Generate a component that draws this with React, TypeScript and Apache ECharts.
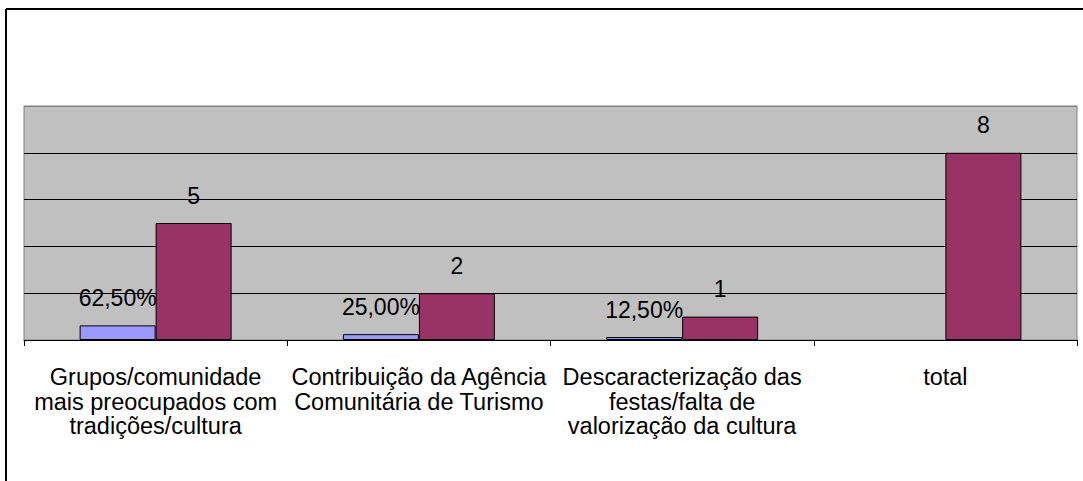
import React, { useEffect, useRef } from "react";
import * as echarts from "echarts";

const categories = [
  "Grupos/comunidade\nmais preocupados com\ntradições/cultura",
  "Contribuição da Agência\nComunitária de Turismo",
  "Descaracterização das\nfestas/falta de\nvalorização da cultura",
  "total",
];
const percentValues: (number | null)[] = [0.625, 0.25, 0.125, null];
const countValues = [5, 2, 1, 8];
const yTicks = [0, 2, 4, 6, 8, 10];

const FONT = '"Liberation Sans", Arial, sans-serif';

export default function App() {
  const ref = useRef<HTMLDivElement>(null);
  useEffect(() => {
    document.body.style.margin = "0";
    const chart = echarts.init(ref.current!, undefined, { renderer: "svg" });
    chart.setOption({
      animation: false,
      backgroundColor: "#ffffff",
      textStyle: { fontFamily: FONT },
      grid: {
        left: 24,
        right: 6,
        top: 106,
        bottom: 141,
        show: true,
        backgroundColor: "#C0C0C0",
        borderColor: "#808080",
        borderWidth: 1,
      },
      graphic: [
        { type: "line", shape: { x1: 6, y1: 9, x2: 1083, y2: 9 }, style: { stroke: "#000", lineWidth: 2 } },
        { type: "line", shape: { x1: 6, y1: 9, x2: 6, y2: 481 }, style: { stroke: "#000", lineWidth: 2 } },
      ],
      xAxis: {
        type: "category",
        data: categories,
        axisLine: { lineStyle: { color: "#000", width: 1 } },
        axisTick: { show: true, length: 6, lineStyle: { color: "#000" } },
        axisLabel: {
          interval: 0,
          color: "#000",
          fontFamily: FONT,
          fontSize: 23.5,
          lineHeight: 24.5,
          margin: 25,
          align: "center",
        },
      },
      yAxis: {
        type: "value",
        min: yTicks[0],
        max: yTicks[yTicks.length - 1],
        interval: 2,
        axisLine: { show: false },
        axisTick: { show: false },
        axisLabel: { show: false },
        splitLine: {
          show: true,
          lineStyle: { color: ["#000", "#000", "#000", "#000", "#000", "#808080"], width: 1 },
        },
      },
      series: [
        {
          type: "bar",
          data: percentValues,
          barWidth: 76,
          barGap: "0%",
          itemStyle: { color: "#9999FF", borderColor: "#000", borderWidth: 1 },
          label: {
            show: true,
            position: "top",
            distance: 16,
            color: "#000",
            fontFamily: FONT,
            fontSize: 23,
            formatter: (p: any) =>
              p.value == null ? "" : (p.value * 100).toFixed(2).replace(".", ",") + "%",
          },
        },
        {
          type: "bar",
          data: countValues,
          barWidth: 76,
          barGap: "0%",
          itemStyle: { color: "#993366", borderColor: "#000", borderWidth: 1 },
          label: {
            show: true,
            position: "top",
            distance: 16,
            color: "#000",
            fontFamily: FONT,
            fontSize: 23,
          },
        },
      ],
    });
    return () => chart.dispose();
  }, []);
  return <div ref={ref} style={{ width: 1083, height: 481 }} />;
}
